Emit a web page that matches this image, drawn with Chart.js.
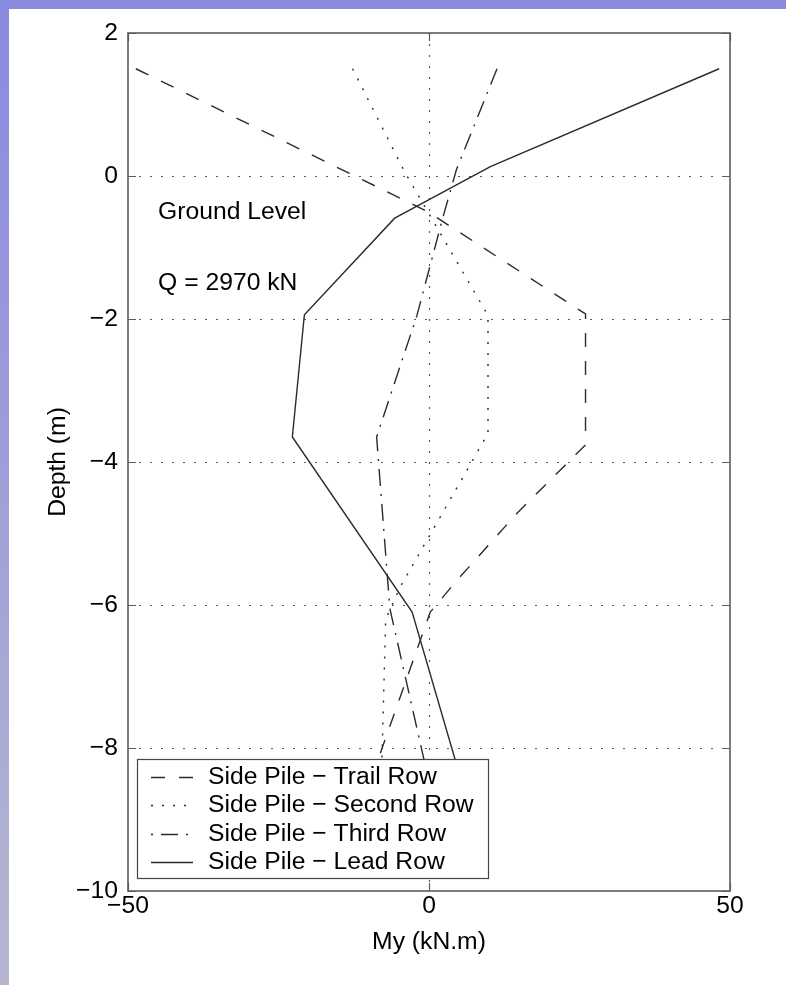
<!DOCTYPE html>
<html>
<head>
<meta charset="utf-8">
<title>Side pile bending moment My</title>
<script src="https://cdn.jsdelivr.net/npm/chart.js@4"></script>
<style>
  html, body { margin: 0; padding: 0; background: #fff; }
  #page { position: relative; width: 786px; height: 985px; overflow: hidden; background: #fff; }
  #topband { position: absolute; left: 0; top: 0; width: 786px; height: 9px; background: #8a89e0; }
  #leftband { position: absolute; left: 0; top: 0; width: 9px; height: 985px; background: linear-gradient(#8a89e0, #b7b6d1); }
  canvas { position: absolute; left: 0; top: 0; }
</style>
</head>
<body>
<div id="page">
  <div id="topband"></div>
  <div id="leftband"></div>
  <canvas id="chart" width="786" height="985"></canvas>
</div>
<script>
// Bending moment My (kN.m) along the side piles, Q = 2970 kN
const trailDepth  = [1.5, -0.5, -1.93, -3.76, -4.71, -5.65, -6.1, -8.1, -9.0];
const trailMoment = [-48.7, -0.2, 26.0, 26.0, 14.7, 4.7, 0.2, -8.2, -12.0];

const secondDepth  = [1.5, 0.05, -1.95, -3.6, -5.75, -6.2, -8.1, -9.0];
const secondMoment = [-12.7, -4.0, 9.8, 9.8, -4.8, -7.2, -7.8, -8.0];

const thirdDepth  = [1.5, 0.1, -0.55, -1.95, -3.65, -6.05, -8.1, -9.0];
const thirdMoment = [11.3, 4.6, 2.4, -2.0, -8.7, -6.5, -1.0, 1.4];

const leadDepth  = [1.5, 0.13, -0.59, -1.94, -3.65, -6.1, -8.15, -9.0];
const leadMoment = [48.2, 10.2, -5.7, -20.7, -22.7, -2.8, 4.3, 7.3];

const seriesNames = [
  'Side Pile \u2212 Trail Row',
  'Side Pile \u2212 Second Row',
  'Side Pile \u2212 Third Row',
  'Side Pile \u2212 Lead Row'
];

const xTickValues = [-50, 0, 50];
const yTickValues = [2, 0, -2, -4, -6, -8, -10];
const xLimits = [-50, 50];
const yLimits = [-10, 2];

const noteLines = [
  { x: -45, y: -0.5, text: 'Ground Level' },
  { x: -45, y: -1.5, text: 'Q = 2970 kN' }
];

const FONT = '"Liberation Sans", Arial, Helvetica, sans-serif';
const FONT_SIZE = 24.7;
const LINE = '#2b2b2b';
const GRID = '#5a5a5a';
const FRAME = '#5c5c5c';

const styles = [
  { dash: [14, 14], offset: 0 },        // dashed
  { dash: [2, 9], offset: 0 },          // dotted
  { dash: [17, 8, 2, 8], offset: 25 },  // dash-dot
  { dash: [], offset: 0 }               // solid
];

const pairs = (d, m) => d.map((v, i) => ({ x: m[i], y: v }));
const seriesData = [
  pairs(trailDepth, trailMoment),
  pairs(secondDepth, secondMoment),
  pairs(thirdDepth, thirdMoment),
  pairs(leadDepth, leadMoment)
];

const fmt = v => String(v).replace('-', '\u2212');

// Dotted grid, boxed frame with inward ticks, notes and an opaque legend
const framePlugin = {
  id: 'framePlugin',
  beforeDatasetsDraw(chart) {
    const { ctx, chartArea: a, scales: { x, y } } = chart;
    ctx.save();
    ctx.strokeStyle = GRID;
    ctx.lineWidth = 1.2;
    ctx.setLineDash([2, 9]);
    xTickValues.forEach(v => {
      if (v <= xLimits[0] || v >= xLimits[1]) return;
      const px = Math.round(x.getPixelForValue(v)) + 0.5;
      ctx.beginPath(); ctx.moveTo(px, a.top); ctx.lineTo(px, a.bottom); ctx.stroke();
    });
    yTickValues.forEach(v => {
      if (v <= yLimits[0] || v >= yLimits[1]) return;
      const py = Math.round(y.getPixelForValue(v)) + 0.5;
      ctx.beginPath(); ctx.moveTo(a.left, py); ctx.lineTo(a.right, py); ctx.stroke();
    });
    ctx.restore();
  },
  afterDatasetsDraw(chart) {
    const { ctx, chartArea: a, scales: { x, y } } = chart;
    ctx.save();
    // frame
    ctx.setLineDash([]);
    ctx.strokeStyle = FRAME;
    ctx.lineWidth = 1.6;
    ctx.strokeRect(a.left, a.top, a.right - a.left, a.bottom - a.top);
    // inward tick marks
    const tl = 8;
    ctx.lineWidth = 1.2;
    xTickValues.forEach(v => {
      const px = Math.round(x.getPixelForValue(v)) + 0.5;
      ctx.beginPath();
      ctx.moveTo(px, a.top); ctx.lineTo(px, a.top + tl);
      ctx.moveTo(px, a.bottom); ctx.lineTo(px, a.bottom - tl);
      ctx.stroke();
    });
    yTickValues.forEach(v => {
      const py = Math.round(y.getPixelForValue(v)) + 0.5;
      ctx.beginPath();
      ctx.moveTo(a.left, py); ctx.lineTo(a.left + tl, py);
      ctx.moveTo(a.right, py); ctx.lineTo(a.right - tl, py);
      ctx.stroke();
    });
    // notes
    ctx.fillStyle = '#000';
    ctx.font = FONT_SIZE + 'px ' + FONT;
    ctx.textAlign = 'left';
    ctx.textBaseline = 'middle';
    noteLines.forEach(n => {
      ctx.fillText(n.text, x.getPixelForValue(n.x), y.getPixelForValue(n.y));
    });
    // legend
    const lx = a.left + 9, ly = a.bottom - 132, lw = 351, lh = 119;
    ctx.fillStyle = '#fff';
    ctx.fillRect(lx, ly, lw, lh);
    ctx.strokeStyle = '#444';
    ctx.lineWidth = 1.2;
    ctx.strokeRect(lx + 0.5, ly + 0.5, lw, lh);
    seriesNames.forEach((name, i) => {
      const ry = ly + 18 + i * 28.4;
      ctx.save();
      ctx.strokeStyle = LINE;
      ctx.lineWidth = 1.4;
      ctx.setLineDash(styles[i].dash);
      ctx.lineDashOffset = styles[i].offset;
      ctx.beginPath();
      ctx.moveTo(lx + 14, Math.round(ry) + 0.5);
      ctx.lineTo(lx + 56, Math.round(ry) + 0.5);
      ctx.stroke();
      ctx.restore();
      ctx.fillStyle = '#000';
      ctx.font = FONT_SIZE + 'px ' + FONT;
      ctx.textAlign = 'left';
      ctx.textBaseline = 'middle';
      ctx.fillText(name, lx + 71, ry);
    });
    ctx.restore();
  }
};

const tickFont = { family: FONT, size: FONT_SIZE, lineHeight: 1.2 };

new Chart(document.getElementById('chart'), {
  type: 'scatter',
  data: {
    datasets: seriesData.map((d, i) => ({
      label: seriesNames[i],
      data: d,
      showLine: true,
      borderColor: LINE,
      borderWidth: 1.4,
      borderDash: styles[i].dash,
      pointRadius: 0,
      pointHoverRadius: 0,
      fill: false,
      tension: 0
    }))
  },
  options: {
    responsive: false,
    devicePixelRatio: 1,
    animation: false,
    events: [],
    layout: { padding: { left: 0, top: 33, right: 56, bottom: 0 } },
    plugins: {
      legend: { display: false },
      tooltip: { enabled: false }
    },
    scales: {
      x: {
        type: 'linear',
        position: 'bottom',
        min: xLimits[0],
        max: xLimits[1],
        afterBuildTicks: s => { s.ticks = xTickValues.map(v => ({ value: v })); },
        ticks: { font: tickFont, color: '#000', padding: 0, maxRotation: 0, autoSkip: false, callback: v => fmt(v) },
        grid: { display: false, drawTicks: false },
        border: { display: false },
        title: { display: true, text: 'My (kN.m)', color: '#000', font: tickFont, padding: { top: 0, bottom: 28.2 } },
        afterFit: s => { s.height = 94; s.paddingLeft = 0; s.paddingRight = 0; }
      },
      y: {
        type: 'linear',
        position: 'left',
        min: yLimits[0],
        max: yLimits[1],
        afterBuildTicks: s => { s.ticks = yTickValues.map(v => ({ value: v })); },
        ticks: { font: tickFont, color: '#000', padding: 10, autoSkip: false, callback: v => fmt(v) },
        grid: { display: false, drawTicks: false },
        border: { display: false },
        title: { display: true, text: 'Depth (m)', color: '#000', font: tickFont, padding: { top: 43.2, bottom: 0 } },
        afterFit: s => { s.width = 128; s.paddingTop = 0; s.paddingBottom = 0; }
      }
    }
  },
  plugins: [framePlugin]
});
</script>
</body>
</html>
